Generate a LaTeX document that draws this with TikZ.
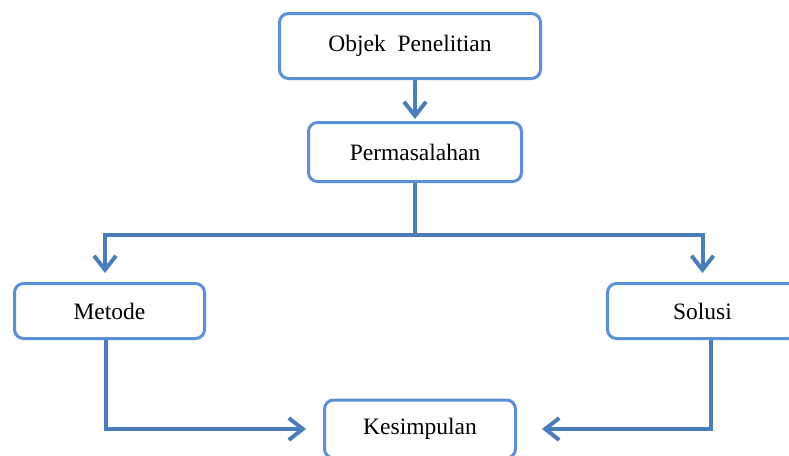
\documentclass[tikz,border=0pt]{standalone}
\usepackage{fontspec}
\setmainfont{Liberation Serif}
\usetikzlibrary{arrows.meta}
\definecolor{boxblue}{HTML}{5B8FD6}
\definecolor{lineblue}{HTML}{4A7EBB}

\begin{document}
\begin{tikzpicture}[x=1pt,y=-1pt,
    box/.style={draw=boxblue, line width=3pt, rounded corners=9pt, fill=white,
                inner sep=0pt, font=\fontsize{23.5}{27}\selectfont},
    line/.style={draw=lineblue, line width=4pt},
    arr/.style={line, -{Straight Barb[length=14pt,width=22pt,line width=4pt]}}]
            \useasboundingbox (0,0) rectangle (789,455);
            \node[box, minimum width=261pt, minimum height=65pt] (obj) at (410,46) {Objek\ \ Penelitian};
            \node[box, minimum width=213pt, minimum height=59pt] (perm) at (415,152) {Permasalahan};
            \node[box, minimum width=190pt, minimum height=55pt] (met) at (109.5,311) {Metode};
            \node[box, minimum width=190pt, minimum height=55pt] (sol) at (702.5,311) {Solusi};
            \node[box, minimum width=191pt, minimum height=58pt] (kes) at (420,429) {Kesimpulan};
            \coordinate (split) at (415,235);
            \draw[arr, shorten >=2pt] (perm.north |- obj.south) -- (perm.north);
            \draw[line] (perm.south) -- (split);
            \draw[arr, shorten >=9pt] (split) -| ([xshift=-4.5pt]met.north);
            \draw[arr, shorten >=9pt] (split) -| (sol.north);
            \draw[arr, shorten >=17pt] ([xshift=-3.5pt]met.south) |- (kes.west);
            \draw[arr, shorten >=25pt] ([xshift=8.5pt]sol.south) |- (kes.east);
        \end{tikzpicture}
\end{document}
